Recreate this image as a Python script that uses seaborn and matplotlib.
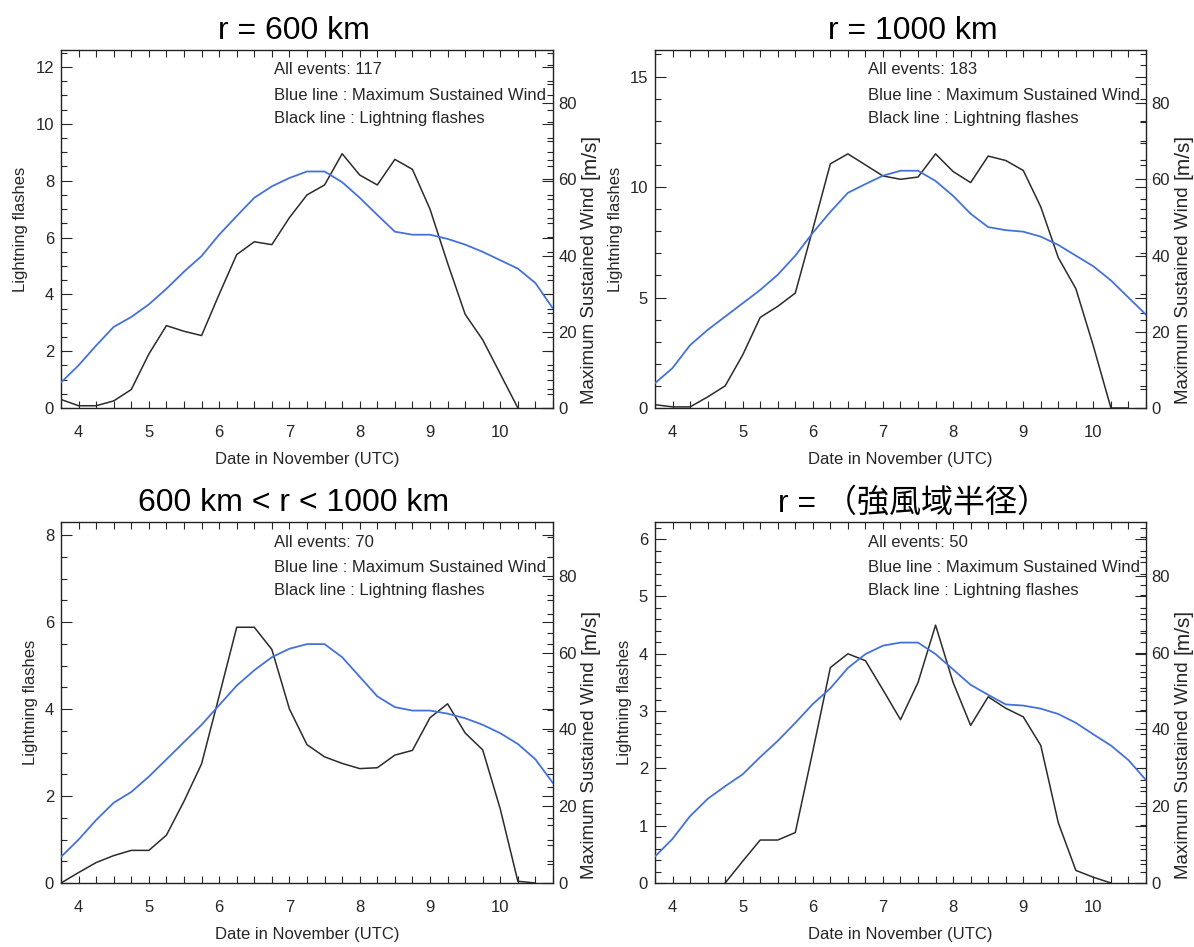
import matplotlib
matplotlib.use("Agg")
import matplotlib.pyplot as plt
from matplotlib.ticker import MultipleLocator, FixedLocator
import seaborn as sns

nan = float("nan")

# Time axis: 6-hourly steps, date in November (UTC)
days = [3.75, 4.00, 4.25, 4.50, 4.75, 5.00, 5.25, 5.50, 5.75, 6.00,
        6.25, 6.50, 6.75, 7.00, 7.25, 7.50, 7.75, 8.00, 8.25, 8.50,
        8.75, 9.00, 9.25, 9.50, 9.75, 10.00, 10.25, 10.50, 10.75]
day_labels = [4, 5, 6, 7, 8, 9, 10]

titles = ["r = 600 km", "r = 1000 km", "600 km < r < 1000 km", "r = （強風域半径）"]
event_counts = [117, 183, 70, 50]

# Lightning flashes (black lines)
flash_600 = [0.30, 0.08, 0.08, 0.25, 0.65, 1.90, 2.90, 2.70, 2.55, 4.00,
             5.40, 5.85, 5.75, 6.70, 7.50, 7.85, 8.95, 8.20, 7.85, 8.75,
             8.40, 7.00, 5.10, 3.30, 2.40, 1.20, 0.00, nan, nan]
flash_1000 = [0.15, 0.05, 0.05, 0.50, 1.00, 2.40, 4.10, 4.60, 5.20, 8.10,
              11.05, 11.50, 11.00, 10.50, 10.35, 10.45, 11.50, 10.70, 10.20, 11.40,
              11.20, 10.75, 9.10, 6.80, 5.40, 2.80, 0.00, 0.00, nan]
flash_ring = [0.00, 0.24, 0.47, 0.63, 0.75, 0.75, 1.10, 1.88, 2.74, 4.30,
              5.88, 5.88, 5.37, 4.00, 3.18, 2.90, 2.75, 2.63, 2.65, 2.94,
              3.05, 3.80, 4.12, 3.45, 3.06, 1.70, 0.04, 0.00, nan]
flash_gale = [nan, nan, nan, nan, 0.00, 0.38, 0.75, 0.75, 0.88, 2.30,
              3.76, 4.00, 3.88, 3.37, 2.85, 3.50, 4.50, 3.50, 2.75, 3.25,
              3.05, 2.90, 2.40, 1.05, 0.22, 0.10, 0.00, nan, nan]

# Maximum sustained wind in m/s (blue lines)
wind_600 = [6.7, 11.2, 16.4, 21.3, 23.9, 27.2, 31.3, 35.8, 39.9, 45.5,
            50.4, 55.2, 58.2, 60.4, 62.1, 62.1, 59.3, 55.2, 50.7, 46.3,
            45.5, 45.5, 44.4, 42.9, 41.0, 38.8, 36.6, 32.8, 26.1]
wind_1000 = [6.5, 10.5, 16.5, 20.5, 24.0, 27.5, 31.0, 35.0, 40.0, 46.0,
             51.5, 56.5, 58.8, 61.0, 62.3, 62.3, 59.6, 55.7, 51.0, 47.5,
             46.7, 46.3, 45.0, 42.8, 40.0, 37.2, 33.5, 29.0, 24.5]
wind_ring = [6.8, 11.3, 16.4, 20.9, 23.7, 27.7, 32.2, 36.7, 41.2, 46.3,
             51.4, 55.4, 58.8, 61.0, 62.2, 62.2, 58.8, 53.7, 48.6, 45.8,
             44.9, 44.9, 44.1, 42.9, 41.2, 39.0, 36.2, 32.2, 26.0]
wind_gale = [6.9, 11.5, 17.4, 21.9, 25.2, 28.3, 32.8, 37.0, 41.7, 46.6,
             50.7, 56.0, 59.6, 61.8, 62.6, 62.6, 59.6, 55.6, 51.6, 49.0,
             46.5, 46.2, 45.4, 44.0, 41.7, 38.7, 35.8, 32.0, 26.8]

flash_series = [flash_600, flash_1000, flash_ring, flash_gale]
wind_series = [wind_600, wind_1000, wind_ring, wind_gale]

# Axis ranges and tick steps for the lightning axis of each panel
flash_top = [12.6, 16.2, 8.3, 6.3]
flash_major = [2, 5, 2, 1]
flash_minor = [0.5, 1, 0.5, 0.2]
wind_top = 94

sns.set_style("white")
plt.rcParams["font.family"] = ["Liberation Sans", "Noto Sans CJK JP", "DejaVu Sans"]
plt.rcParams["axes.linewidth"] = 1.0
plt.rcParams["axes.edgecolor"] = "#222222"

W, H = 1194, 947
fig = plt.figure(figsize=(W / 100, H / 100), dpi=100)

# panel boxes in pixels: left, top, right, bottom
boxes = [(61, 50, 553, 408), (655, 50, 1146, 408),
         (61, 522, 553, 883), (655, 522, 1146, 883)]
title_pos = [(294, 31), (913, 31), (294, 503), (913, 503)]

BLACK = "#2b2b2b"
BLUE = "#4472d8"
TXT = "#262626"

right_labels = []
for i in range(4):
    l, t, r, b = boxes[i]
    ax = fig.add_axes([l / W, 1 - b / H, (r - l) / W, (b - t) / H])
    ax2 = ax.twinx()

    sns.lineplot(x=days, y=flash_series[i], ax=ax, color=BLACK, linewidth=1.1)
    sns.lineplot(x=days, y=wind_series[i], ax=ax2, color=BLUE, linewidth=1.3)

    ax.set_xlim(3.75, 10.75)
    ax.set_ylim(0, flash_top[i])
    ax2.set_ylim(0, wind_top)
    ax.set_facecolor("white")

    ax.xaxis.set_major_locator(FixedLocator(day_labels))
    ax.xaxis.set_minor_locator(MultipleLocator(0.25))
    ax.tick_params(axis="x", which="both", direction="in", top=True, bottom=True,
                   length=5, width=0.8, pad=12, labelsize=12, labelcolor=TXT)

    ax.yaxis.set_major_locator(MultipleLocator(flash_major[i]))
    ax.yaxis.set_minor_locator(MultipleLocator(flash_minor[i]))
    ax.tick_params(axis="y", which="major", direction="in", left=True, right=True,
                   length=8, width=0.8, pad=5, labelsize=12, labelcolor=TXT)
    ax.tick_params(axis="y", which="minor", direction="in", left=True, right=True,
                   length=4, width=0.8)

    ax2.yaxis.set_major_locator(MultipleLocator(20))
    ax2.yaxis.set_minor_locator(MultipleLocator(5))
    ax2.tick_params(axis="y", which="major", direction="in", left=False, right=True,
                    length=8, width=0.8, pad=4, labelsize=12, labelcolor=TXT)
    ax2.tick_params(axis="y", which="minor", direction="in", left=False, right=True,
                    length=4, width=0.8)
    ax2.set_ylabel("")
    for sp in ax2.spines.values():
        sp.set_visible(False)

    ax.set_xlabel("Date in November (UTC)", fontsize=12, color=TXT, labelpad=9)
    ax.set_ylabel("Lightning flashes", fontsize=12, color=TXT, labelpad=5)

    height = b - t
    notes = [f"All events: {event_counts[i]}",
             "Blue line : Maximum Sustained Wind",
             "Black line : Lightning flashes"]
    for k, dy in enumerate([20, 45, 68]):
        ax.text(213 / (r - l), 1 - dy / height, notes[k], transform=ax.transAxes,
                ha="left", va="center", fontsize=12, color=TXT)

    tx, ty = title_pos[i]
    fig.text(tx / W, 1 - ty / H, titles[i], ha="center", va="center",
             fontsize=23, color="black")

    lab = fig.text((r + 37) / W, 1 - (b - 4) / H, "Maximum Sustained Wind",
                   rotation=90, ha="center", va="bottom", fontsize=13.5, color=TXT)
    right_labels.append((lab, r))

fig.canvas.draw()
for lab, r in right_labels:
    bb = lab.get_window_extent()
    fig.text((r + 37) / W, (bb.y1 + 7) / H, "[m/s]", rotation=90,
             ha="center", va="bottom", fontsize=15, color=TXT)

fig.savefig("out.png", dpi=100)
